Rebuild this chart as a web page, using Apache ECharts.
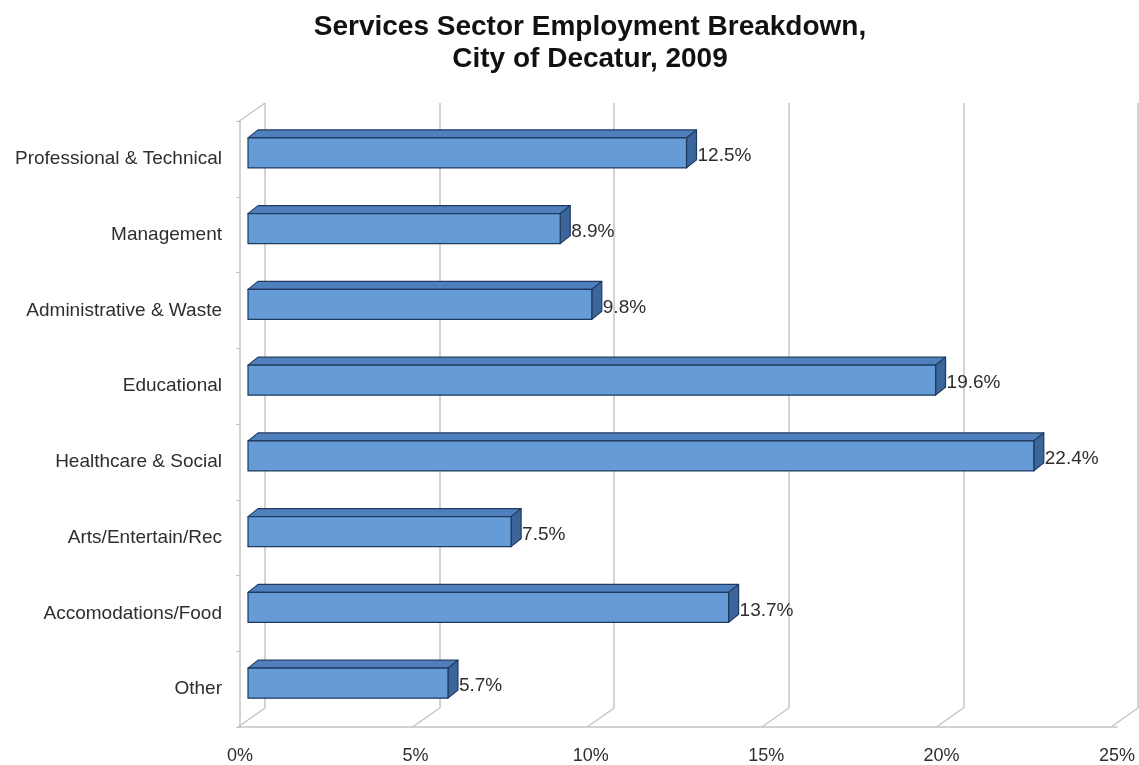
<!DOCTYPE html>
<html>
<head>
<meta charset="utf-8">
<title>Services Sector Employment Breakdown</title>
<script src="https://cdn.jsdelivr.net/npm/echarts@6/dist/echarts.min.js"></script>
<style>
  html, body { margin: 0; padding: 0; background: #ffffff; }
  #chart { width: 1139px; height: 765px; }
</style>
</head>
<body>
<div id="chart"></div>
<script>
// Sector categories, top to bottom
const categories = [
  'Professional & Technical',
  'Management',
  'Administrative & Waste',
  'Educational',
  'Healthcare & Social',
  'Arts/Entertain/Rec',
  'Accomodations/Food',
  'Other'
];
// Share of services-sector employment (%)
const shares = [12.5, 8.9, 9.8, 19.6, 22.4, 7.5, 13.7, 5.7];
// Percentage axis ticks
const axisTicks = [0, 5, 10, 15, 20, 25];

const FONT = '"Liberation Sans", Arial, sans-serif';
const GRID_COLOR = '#c4c4c4';

// Depth offsets of the pseudo-3D box (pixels)
const WALL_DX = 27, WALL_DY = -19;   // front plane -> back wall
const BAR_SHIFT_X = 8, BAR_SHIFT_Y = -6; // front plane -> bar front face
const BAR_DX = 10, BAR_DY = -8;      // bar thickness
const BAR_H = 30;

const barData = shares.map((v, i) => [v, i]);
// floor connectors at each tick plus the top-left wall edge
const edgeData = axisTicks.map(t => [t, 0]).concat([[0, 1]]);

const chart = echarts.init(document.getElementById('chart'), null, { renderer: 'canvas' });

chart.setOption({
  backgroundColor: '#ffffff',
  animation: false,
  title: {
    text: 'Services Sector Employment Breakdown,\nCity of Decatur, 2009',
    left: 585,
    textAlign: 'center',
    top: 6,
    textStyle: {
      fontFamily: FONT,
      fontSize: 28,
      fontWeight: 'bold',
      color: '#111111',
      lineHeight: 32
    }
  },
  grid: [
    // front plane
    { left: 240, right: 22, top: 121, bottom: 38 },
    // back wall
    { left: 265, right: 1, top: 103, bottom: 57 }
  ],
  xAxis: [
    {
      gridIndex: 0,
      type: 'value',
      min: 0, max: 25, interval: 5,
      axisLine: { show: true, lineStyle: { color: GRID_COLOR, width: 1.5 } },
      axisTick: { show: false },
      splitLine: { show: false },
      axisLabel: {
        formatter: '{value}%',
        margin: 20,
        fontFamily: FONT,
        fontSize: 18,
        color: '#2e2e2e'
      }
    },
    {
      gridIndex: 1,
      type: 'value',
      min: 0, max: 25, interval: 5,
      axisLine: { show: false },
      axisTick: { show: false },
      axisLabel: { show: false },
      splitLine: { show: true, lineStyle: { color: GRID_COLOR, width: 1.5 } }
    }
  ],
  yAxis: [
    {
      gridIndex: 0,
      type: 'category',
      data: categories,
      inverse: true,
      axisLine: { show: true, lineStyle: { color: GRID_COLOR, width: 1.5 } },
      axisTick: { show: true, length: 4, lineStyle: { color: GRID_COLOR } },
      splitLine: { show: false },
      axisLabel: {
        margin: 18,
        fontFamily: FONT,
        fontSize: 19,
        color: '#2e2e2e'
      }
    },
    {
      gridIndex: 1,
      type: 'value',
      min: 0, max: 1,
      show: false
    }
  ],
  series: [
    {
      // floor and wall edges of the 3D box
      type: 'custom',
      xAxisIndex: 1,
      yAxisIndex: 1,
      silent: true,
      z: 1,
      data: edgeData,
      renderItem: function (params, api) {
        const p = api.coord([api.value(0), api.value(1)]);
        return {
          type: 'line',
          shape: { x1: p[0], y1: p[1], x2: p[0] - WALL_DX, y2: p[1] - WALL_DY },
          style: { stroke: GRID_COLOR, lineWidth: 1.5 }
        };
      }
    },
    {
      // 3D bars with value labels
      type: 'custom',
      xAxisIndex: 0,
      yAxisIndex: 0,
      z: 5,
      data: barData,
      renderItem: function (params, api) {
        const v = api.value(0);
        const idx = api.value(1);
        const p0 = api.coord([0, idx]);
        const p1 = api.coord([v, idx]);
        const x0 = p0[0] + BAR_SHIFT_X;
        const x1 = p1[0] + BAR_SHIFT_X;
        const cy = p0[1] + BAR_SHIFT_Y;
        const top = cy - BAR_H / 2;
        const bot = cy + BAR_H / 2;
        const edge = { stroke: '#1e3a5f', lineWidth: 1.2, lineJoin: 'round' };
        return {
          type: 'group',
          children: [
            {
              type: 'polygon',
              shape: { points: [[x0, top], [x0 + BAR_DX, top + BAR_DY], [x1 + BAR_DX, top + BAR_DY], [x1, top]] },
              style: Object.assign({ fill: '#4f7fbd' }, edge)
            },
            {
              type: 'polygon',
              shape: { points: [[x1, top], [x1 + BAR_DX, top + BAR_DY], [x1 + BAR_DX, bot + BAR_DY], [x1, bot]] },
              style: Object.assign({ fill: '#3c659c' }, edge)
            },
            {
              type: 'rect',
              shape: { x: x0, y: top, width: x1 - x0, height: BAR_H },
              style: Object.assign({ fill: '#659bd6' }, edge)
            },
            {
              type: 'text',
              style: {
                x: x1 + BAR_DX + 1,
                y: cy + 3,
                text: v.toFixed(1) + '%',
                textAlign: 'left',
                textVerticalAlign: 'middle',
                fontFamily: FONT,
                fontSize: 19,
                fill: '#2e2e2e'
              }
            }
          ]
        };
      }
    }
  ]
});
</script>
</body>
</html>
